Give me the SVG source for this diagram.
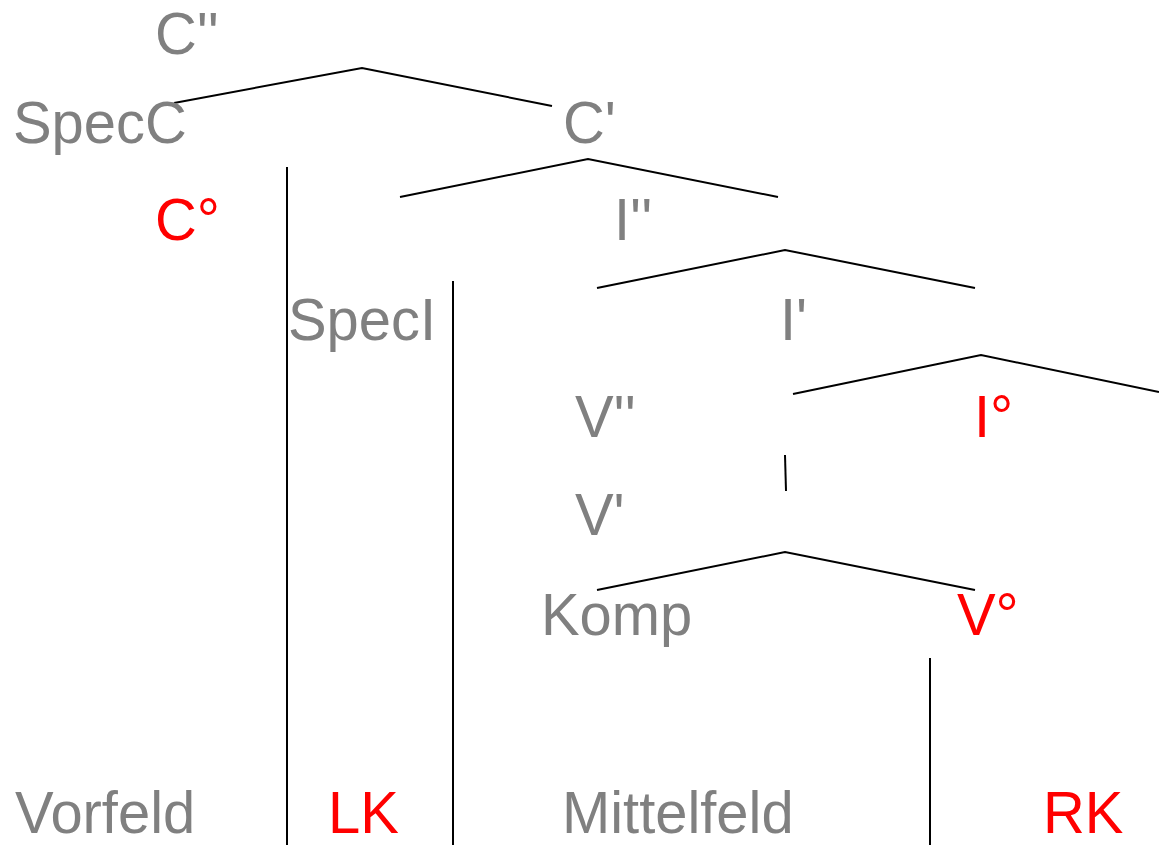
<svg xmlns="http://www.w3.org/2000/svg" width="1159" height="845" viewBox="0 0 1159 845">
<style>
text{font-family:"Liberation Sans",Arial,sans-serif;font-size:60px;fill:#808080}
.h{fill:#ff0000}
.c{fill:none;stroke:#000;stroke-width:2}
</style>
<rect width="1159" height="845" fill="#fff"/>
<g id="connectors">
<polyline class="c" points="174,103 362,68 552,106"/>
<polyline class="c" points="400,197 588,159 778,197"/>
<polyline class="c" points="597,288 785,250 975,288"/>
<polyline class="c" points="793,394 981,355 1159,392"/>
<line class="c" x1="785" y1="455" x2="786" y2="491"/>
<polyline class="c" points="597,590 785,552 975,590"/>
<line class="c" x1="287" y1="167" x2="287" y2="845"/>
<line class="c" x1="453" y1="281" x2="453" y2="845"/>
<line class="c" x1="930" y1="658" x2="930" y2="845"/>
</g>
<g id="n-C2"><text transform="translate(155,54) scale(0.965,1)">C''</text></g>
<g id="n-SpecC"><text transform="translate(13,143) scale(0.965,1)">SpecC</text></g>
<g id="n-C1"><text transform="translate(563,143) scale(0.965,1)">C'</text></g>
<g id="n-C0"><text class="h" transform="translate(155,240) scale(0.965,1)">C°</text></g>
<g id="n-I2"><text transform="translate(614,240) scale(0.965,1)">I''</text></g>
<g id="n-SpecI"><text transform="translate(288,340) scale(0.965,1)">SpecI</text></g>
<g id="n-I1"><text transform="translate(780,340) scale(0.965,1)">I'</text></g>
<g id="n-V2"><text transform="translate(575,437) scale(0.965,1)">V''</text></g>
<g id="n-I0"><text class="h" transform="translate(974,437) scale(0.965,1)">I°</text></g>
<g id="n-V1"><text transform="translate(575,535) scale(0.965,1)">V'</text></g>
<g id="n-Komp"><text transform="translate(541,635) scale(0.965,1)">Komp</text></g>
<g id="n-V0"><text class="h" transform="translate(957,635) scale(0.965,1)">V°</text></g>
<g id="n-Vorfeld"><text transform="translate(15,833) scale(0.965,1)">Vorfeld</text></g>
<g id="n-LK"><text class="h" transform="translate(328,833) scale(0.965,1)">LK</text></g>
<g id="n-Mittelfeld"><text transform="translate(562,833) scale(0.965,1)">Mittelfeld</text></g>
<g id="n-RK"><text class="h" transform="translate(1043,833) scale(0.965,1)">RK</text></g>
</svg>
